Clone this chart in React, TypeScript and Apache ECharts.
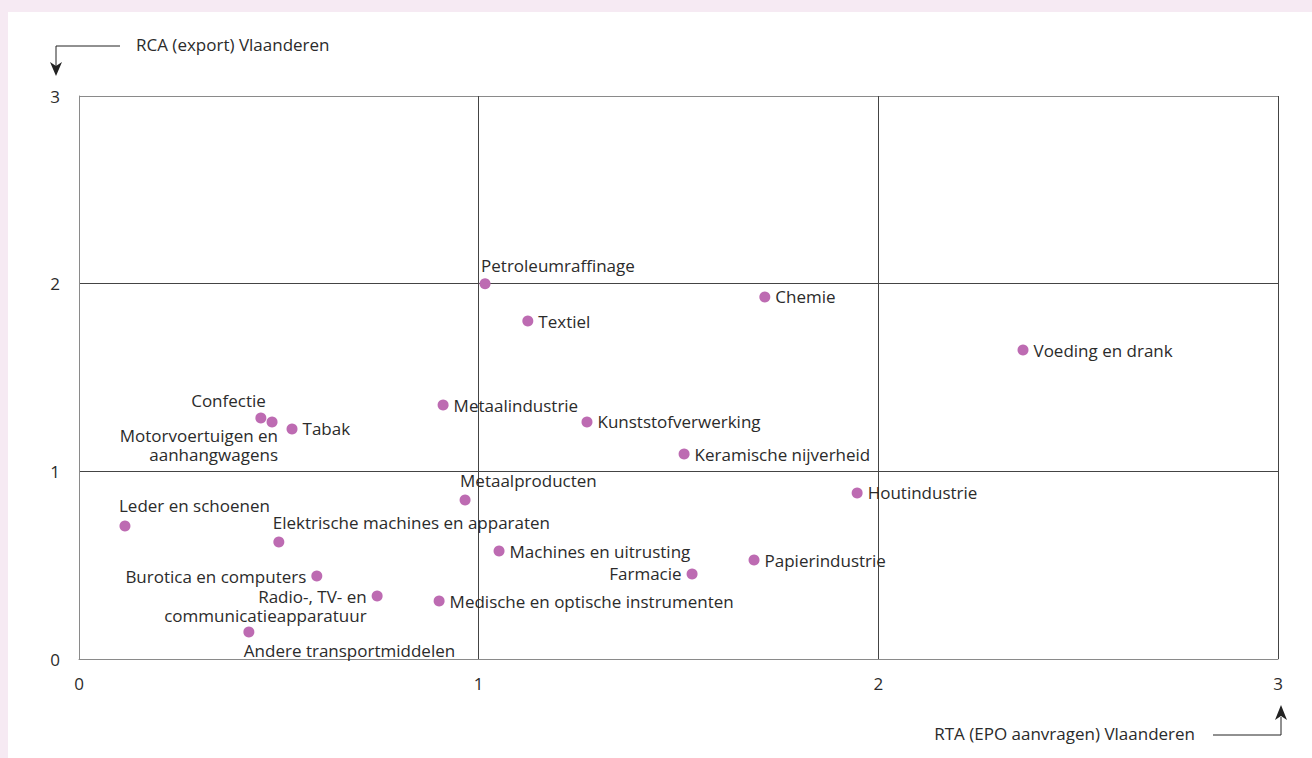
import React, { useEffect, useRef } from "react";
import * as echarts from "echarts";

const sectors = [
  "Petroleumraffinage",
  "Chemie",
  "Textiel",
  "Voeding en drank",
  "Confectie",
  "Motorvoertuigen en\naanhangwagens",
  "Tabak",
  "Metaalindustrie",
  "Kunststofverwerking",
  "Keramische nijverheid",
  "Metaalproducten",
  "Houtindustrie",
  "Leder en schoenen",
  "Elektrische machines en apparaten",
  "Machines en uitrusting",
  "Papierindustrie",
  "Farmacie",
  "Burotica en computers",
  "Radio-, TV- en\ncommunicatieapparatuur",
  "Medische en optische instrumenten",
  "Andere transportmiddelen",
];
const rtaValues = [1.016, 1.716, 1.123, 2.362, 0.455, 0.483, 0.533, 0.911, 1.271, 1.514, 0.966, 1.947, 0.115, 0.5, 1.051, 1.689, 1.534, 0.595, 0.746, 0.901, 0.425];
const rcaValues = [2.0, 1.929, 1.801, 1.646, 1.284, 1.263, 1.226, 1.353, 1.263, 1.092, 0.847, 0.885, 0.709, 0.623, 0.575, 0.527, 0.453, 0.442, 0.336, 0.309, 0.144];
const axisTicks = [0, 1, 2, 3];
const yTitle = "RCA (export) Vlaanderen";
const xTitle = "RTA (EPO aanvragen) Vlaanderen";

const labelPlacement: Record<string, any> = {
  "Petroleumraffinage": { position: "top", align: "left", offset: [-4, 2] },
  "Confectie": { position: "top", align: "right", offset: [5, 2] },
  "Motorvoertuigen en\naanhangwagens": { position: "bottom", align: "right", offset: [6, -6] },
  "Metaalproducten": { position: "top", align: "left", offset: [-5, 0] },
  "Leder en schoenen": { position: "top", align: "left", offset: [-6, 0] },
  "Elektrische machines en apparaten": { position: "top", align: "left", offset: [-6, 0] },
  "Andere transportmiddelen": { position: "bottom", align: "left", offset: [-5, -1] },
  "Farmacie": { position: "left" },
  "Burotica en computers": { position: "left" },
  "Radio-, TV- en\ncommunicatieapparatuur": { position: "left", verticalAlign: "top", offset: [0, -9] },
};

const FONT = "'Open Sans', sans-serif";
const TEXT = "#2b2b2b";
const FS = 17;

export default function App() {
  const ref = useRef<HTMLDivElement>(null);
  useEffect(() => {
    if (!ref.current) return;
    const chart = echarts.init(ref.current, undefined, { renderer: "svg" });
    const data = sectors.map((name, i) => ({
      name,
      value: [rtaValues[i], rcaValues[i]],
      label: labelPlacement[name] || { position: "right" },
    }));
    chart.setOption({
      animation: false,
      backgroundColor: "#ffffff",
      textStyle: { fontFamily: FONT },
      grid: { left: 71, top: 84, right: 34, bottom: 99 },
      xAxis: {
        type: "value",
        min: axisTicks[0],
        max: axisTicks[axisTicks.length - 1],
        interval: 1,
        axisLine: { show: true, lineStyle: { color: "#8a8a8a", width: 1 } },
        axisTick: { show: false },
        axisLabel: { fontSize: FS, color: TEXT, margin: 16, fontFamily: FONT },
        splitLine: { show: true, lineStyle: { color: ["#8a8a8a", "#444444", "#444444", "#444444"], width: 1 } },
      },
      yAxis: {
        type: "value",
        min: axisTicks[0],
        max: axisTicks[axisTicks.length - 1],
        interval: 1,
        axisLine: { show: true, lineStyle: { color: "#8a8a8a", width: 1 } },
        axisTick: { show: false },
        axisLabel: { fontSize: FS, color: TEXT, margin: 19, fontFamily: FONT },
        splitLine: { show: true, lineStyle: { color: ["#8a8a8a", "#444444", "#444444", "#8a8a8a"], width: 1 } },
      },
      series: [
        {
          type: "scatter",
          symbol: "circle",
          symbolSize: 11,
          itemStyle: { color: "#bd6bb2", opacity: 1 },
          label: {
            show: true,
            formatter: (p: any) => p.name,
            fontSize: FS,
            lineHeight: 19,
            color: TEXT,
            fontFamily: FONT,
            distance: 5,
          },
          data,
        },
      ],
      graphic: [
        { type: "polyline", shape: { points: [[112, 34], [48, 34], [48, 55]] }, style: { stroke: "#222", lineWidth: 1, fill: null } },
        { type: "polygon", shape: { points: [[42, 50], [48, 54], [54, 50], [48, 64]] }, style: { fill: "#222" } },
        { type: "text", x: 128, y: 32, style: { text: yTitle, fontSize: FS, fontFamily: FONT, fill: TEXT, verticalAlign: "middle", align: "left" } },
        { type: "polyline", shape: { points: [[1205, 723], [1273, 723], [1273, 705]] }, style: { stroke: "#222", lineWidth: 1, fill: null } },
        { type: "polygon", shape: { points: [[1267, 708], [1273, 704], [1279, 708], [1273, 693]] }, style: { fill: "#222" } },
        { type: "text", x: 1187, y: 721, style: { text: xTitle, fontSize: FS, fontFamily: FONT, fill: TEXT, verticalAlign: "middle", align: "right" } },
      ],
    });
    return () => chart.dispose();
  }, []);
  return (
    <div style={{ position: "absolute", left: 0, top: 0, width: 1312, height: 758, background: "#f6eaf3", overflow: "hidden" }}>
      <div ref={ref} style={{ position: "absolute", left: 8, top: 12, width: 1304, height: 746, background: "#ffffff" }} />
    </div>
  );
}
